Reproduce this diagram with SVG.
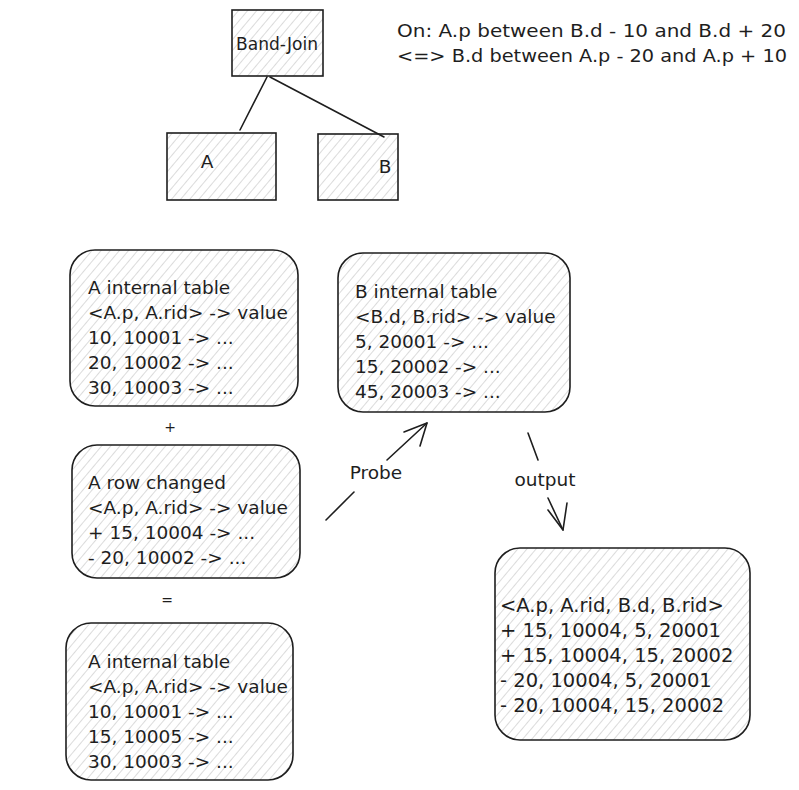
<svg xmlns="http://www.w3.org/2000/svg" width="799" height="790" viewBox="0 0 799 790">
<defs>
<pattern id="hatch" patternUnits="userSpaceOnUse" width="7" height="7" patternTransform="rotate(40)">
<rect width="7" height="7" fill="#ffffff"/>
<line x1="0" y1="0" x2="0" y2="7" stroke="#b8b8b8" stroke-width="1"/>
</pattern>
</defs>
<style>
.box{fill:url(#hatch);stroke:#1e1e1e;stroke-width:1.6}
.t{font-family:"DejaVu Sans","Liberation Sans",sans-serif;font-size:18.5px;fill:#1e1e1e}
.c{stroke:#1e1e1e;stroke-width:1.6;fill:none;stroke-linecap:round}
</style>
<rect width="799" height="790" fill="#ffffff"/>
<g id="band-join"><rect class="box" x="232" y="10" width="91" height="66"/><text class="t" x="277" y="50" text-anchor="middle" style="font-size:17.5px" textLength="82" lengthAdjust="spacingAndGlyphs">Band-Join</text></g>
<g id="condition"><text class="t" x="397" y="37" textLength="389" lengthAdjust="spacingAndGlyphs">On: A.p between B.d - 10 and B.d + 20</text><text class="t" x="397" y="62" textLength="390" lengthAdjust="spacingAndGlyphs">&lt;=&gt; B.d between A.p - 20 and A.p + 10</text></g>
<g id="node-a"><rect class="box" x="167" y="133" width="109" height="67"/><text class="t" x="207" y="168" text-anchor="middle">A</text></g>
<g id="node-b"><rect class="box" x="318" y="134" width="80" height="66"/><text class="t" x="385" y="173" text-anchor="middle">B</text></g>
<g id="a-table"><rect class="box" x="70" y="250" width="228" height="156" rx="25"/>
<text class="t" x="88"><tspan x="88" y="294">A internal table</tspan><tspan x="88" y="319">&lt;A.p, A.rid&gt; -&gt; value</tspan><tspan x="88" y="344">10, 10001 -&gt; ...</tspan><tspan x="88" y="369">20, 10002 -&gt; ...</tspan><tspan x="88" y="394">30, 10003 -&gt; ...</tspan></text></g>
<g id="b-table"><rect class="box" x="338" y="253" width="232" height="159" rx="25"/>
<text class="t" x="355"><tspan x="355" y="298">B internal table</tspan><tspan x="355" y="323">&lt;B.d, B.rid&gt; -&gt; value</tspan><tspan x="355" y="348">5, 20001 -&gt; ...</tspan><tspan x="355" y="373">15, 20002 -&gt; ...</tspan><tspan x="355" y="398">45, 20003 -&gt; ...</tspan></text></g>
<g id="plus"><text class="t" x="170" y="432" text-anchor="middle" style="font-size:14px">+</text></g>
<g id="a-changed"><rect class="box" x="72" y="445" width="228" height="133" rx="25"/>
<text class="t" x="88"><tspan x="88" y="489">A row changed</tspan><tspan x="88" y="514">&lt;A.p, A.rid&gt; -&gt; value</tspan><tspan x="88" y="539">+ 15, 10004 -&gt; ...</tspan><tspan x="88" y="564">- 20, 10002 -&gt; ...</tspan></text></g>
<g id="equals"><text class="t" x="167" y="605" text-anchor="middle" style="font-size:14px">=</text></g>
<g id="a-table-new"><rect class="box" x="66" y="623" width="227" height="157" rx="25"/>
<text class="t" x="88"><tspan x="88" y="668">A internal table</tspan><tspan x="88" y="693">&lt;A.p, A.rid&gt; -&gt; value</tspan><tspan x="88" y="718">10, 10001 -&gt; ...</tspan><tspan x="88" y="743">15, 10005 -&gt; ...</tspan><tspan x="88" y="768">30, 10003 -&gt; ...</tspan></text></g>
<g id="output"><rect class="box" x="495" y="548" width="255" height="192" rx="25"/>
<text class="t" x="500" style="font-size:19.5px"><tspan x="500" y="612">&lt;A.p, A.rid, B.d, B.rid&gt;</tspan><tspan x="500" y="637">+ 15, 10004, 5, 20001</tspan><tspan x="500" y="662">+ 15, 10004, 15, 20002</tspan><tspan x="500" y="687">- 20, 10004, 5, 20001</tspan><tspan x="500" y="712">- 20, 10004, 15, 20002</tspan></text></g>
<g id="connectors">
<path class="c" d="M267 77 L240 130"/>
<path class="c" d="M270 77 L384 137"/>
<path class="c" d="M326 520 L354 492"/>
<path class="c" d="M387 460 L427 423"/>
<path class="c" d="M427 423 L404 432 M427 423 L420 446"/>
<path class="c" d="M528 433 L538 460"/>
<path class="c" d="M548 498 L563 530"/>
<path class="c" d="M563 530 L567 503 M563 530 L548 510"/>
<text class="t" x="376" y="479" text-anchor="middle" style="font-size:18.5px">Probe</text>
<text class="t" x="545" y="486" text-anchor="middle" style="font-size:18.5px">output</text>
</g>
</svg>
